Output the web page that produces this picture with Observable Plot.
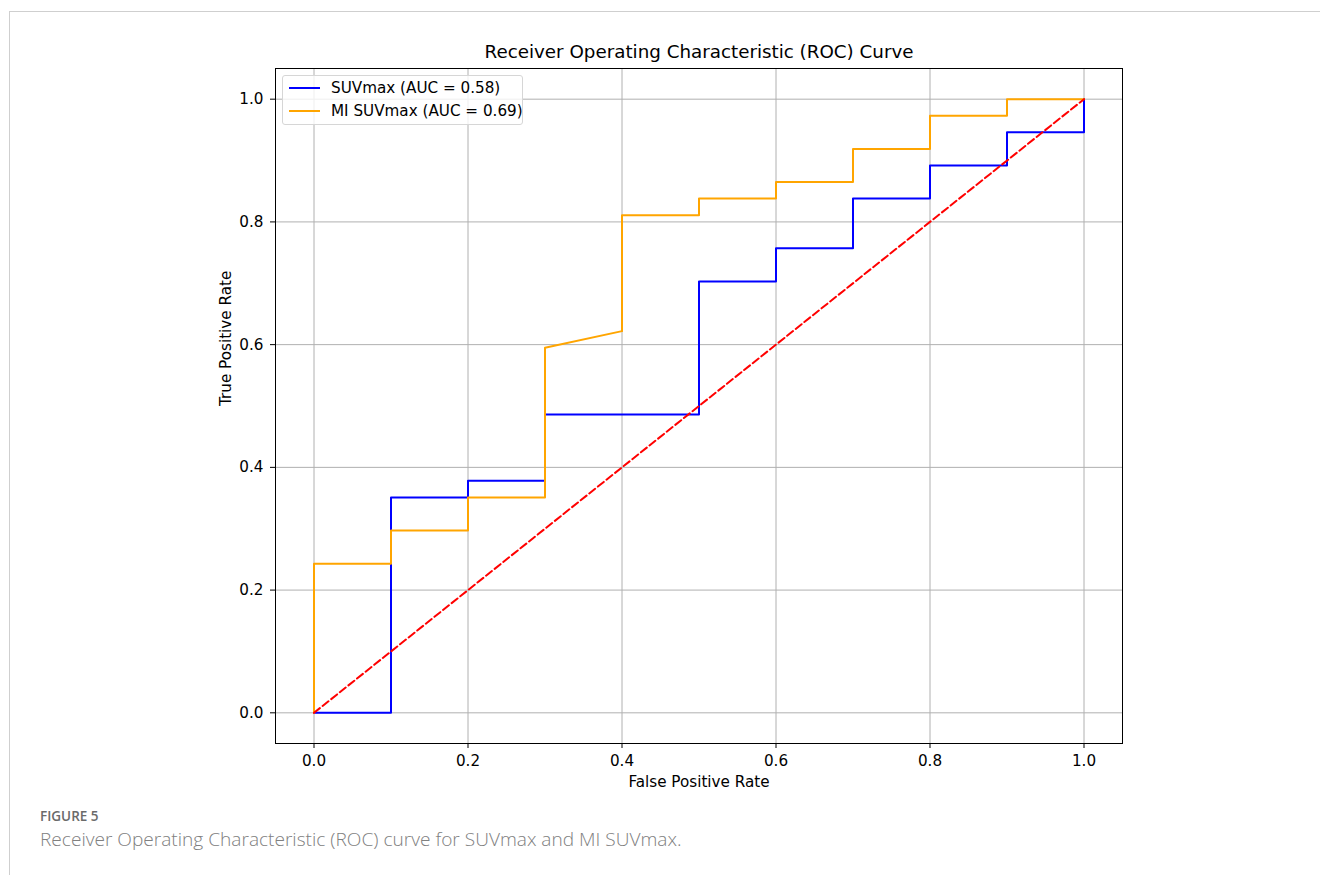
<!DOCTYPE html>
<html>
<head>
<meta charset="utf-8">
<script src="https://cdn.jsdelivr.net/npm/d3@7"></script>
<script src="https://cdn.jsdelivr.net/npm/@observablehq/plot@0.6"></script>
<style>
  html, body { margin: 0; padding: 0; background: #fff; }
  #wrap { position: relative; width: 1320px; height: 875px; overflow: hidden; }
  #card { position: absolute; left: 9px; top: 11px; width: 1400px; height: 1000px; border: 1px solid #cfcfcf; box-sizing: border-box; }
  #chart { position: absolute; left: 0; top: 0; }
  #legend { position: absolute; left: 282px; top: 75px; width: 241px; height: 50px; box-sizing: border-box;
    border: 1px solid #d6d6d6; border-radius: 3px; background: rgba(255,255,255,0.8);
    font-family: "DejaVu Sans", sans-serif; font-size: 15.2px; color: #000; }
  .lrow { position: absolute; left: 0; height: 20px; }
  .lsw { position: absolute; left: 6px; top: 9px; width: 31px; height: 0; border-top: 2px solid; }
  .ltx { position: absolute; left: 48px; top: 0; white-space: nowrap; line-height: 20px; }
  #fig { position: absolute; left: 40px; top: 807px; font-family: "Open Sans", sans-serif; font-size: 13.5px; font-weight: 600; color: #6a6a6a; }
  #cap { position: absolute; left: 40px; top: 826px; font-family: "Open Sans", sans-serif; font-size: 19.1px; font-weight: 300; color: #808080; white-space: nowrap; }
</style>
</head>
<body>
<div id="wrap">
  <div id="card"></div>
  <div id="chart"></div>
  <div id="legend"></div>
  <div id="fig">FIGURE 5</div>
  <div id="cap">Receiver Operating Characteristic (ROC) curve for SUVmax and MI SUVmax.</div>
</div>
<script>
// ---- data ----
const suvFPR = [0, 0.1, 0.1, 0.2, 0.2, 0.3, 0.3, 0.5, 0.5, 0.6, 0.6, 0.7, 0.7, 0.8, 0.8, 0.9, 0.9, 1.0, 1.0];
const suvTPR = [0, 0, 0.351, 0.351, 0.378, 0.378, 0.486, 0.486, 0.703, 0.703, 0.757, 0.757, 0.838, 0.838, 0.892, 0.892, 0.946, 0.946, 1.0];
const miFPR = [0, 0, 0.1, 0.1, 0.2, 0.2, 0.3, 0.3, 0.4, 0.4, 0.5, 0.5, 0.6, 0.6, 0.7, 0.7, 0.8, 0.8, 0.9, 0.9, 1.0];
const miTPR = [0, 0.243, 0.243, 0.297, 0.297, 0.351, 0.351, 0.595, 0.622, 0.811, 0.811, 0.838, 0.838, 0.865, 0.865, 0.919, 0.919, 0.973, 0.973, 1.0, 1.0];
const diagFPR = [0, 1];
const diagTPR = [0, 1];
const tickValues = [0, 0.2, 0.4, 0.6, 0.8, 1.0];
const seriesNames = ["SUVmax (AUC = 0.58)", "MI SUVmax (AUC = 0.69)"];
const seriesColors = ["blue", "orange"];
const titleText = "Receiver Operating Characteristic (ROC) Curve";
const xLabel = "False Positive Rate";
const yLabel = "True Positive Rate";

const suv = suvFPR.map((x, i) => ({x, y: suvTPR[i]}));
const mi = miFPR.map((x, i) => ({x, y: miTPR[i]}));
const diag = diagFPR.map((x, i) => ({x, y: diagTPR[i]}));

const plot = Plot.plot({
  width: 1320,
  height: 800,
  marginLeft: 275,
  marginRight: 198,
  marginTop: 68,
  marginBottom: 57,
  x: {domain: [-0.05, 1.05]},
  y: {domain: [-0.05, 1.05]},
  style: {fontFamily: "'DejaVu Sans'", fontSize: "15.2px", color: "#000", background: "transparent", overflow: "visible"},
  marks: [
    Plot.gridX(tickValues, {stroke: "#b0b0b0", strokeOpacity: 1, strokeWidth: 1}),
    Plot.gridY(tickValues, {stroke: "#b0b0b0", strokeOpacity: 1, strokeWidth: 1}),
    Plot.line(suv, {x: "x", y: "y", stroke: seriesColors[0], strokeWidth: 2, curve: "linear"}),
    Plot.line(mi, {x: "x", y: "y", stroke: seriesColors[1], strokeWidth: 2, curve: "linear"}),
    Plot.line(diag, {x: "x", y: "y", stroke: "red", strokeWidth: 2, strokeDasharray: "7.5,3.5"}),
    Plot.axisX(tickValues, {tickFormat: d3.format(".1f"), tickSize: 5, tickPadding: 7, label: null, stroke: "#000", fontSize: 15.2}),
    Plot.axisY(tickValues, {tickFormat: d3.format(".1f"), tickSize: 5, tickPadding: 7, label: null, stroke: "#000", fontSize: 15.2}),
    Plot.frame({stroke: "#000", strokeWidth: 1}),
    Plot.text([titleText], {frameAnchor: "top", dy: -16, text: d => d, fontSize: 18.3, lineAnchor: "middle"}),
    Plot.text([xLabel], {frameAnchor: "bottom", dy: 39, text: d => d, fontSize: 15.2, lineAnchor: "middle"}),
    Plot.text([yLabel], {frameAnchor: "left", dx: -49, text: d => d, fontSize: 15.2, rotate: -90, lineAnchor: "middle"})
  ]
});
document.getElementById("chart").appendChild(plot);

const legend = document.getElementById("legend");
seriesNames.forEach((name, i) => {
  const row = document.createElement("div");
  row.className = "lrow";
  row.style.top = (2 + i * 23) + "px";
  row.style.width = "100%";
  const sw = document.createElement("div");
  sw.className = "lsw";
  sw.style.borderTopColor = seriesColors[i];
  const tx = document.createElement("div");
  tx.className = "ltx";
  tx.textContent = name;
  row.appendChild(sw);
  row.appendChild(tx);
  legend.appendChild(row);
});
</script>
</body>
</html>
